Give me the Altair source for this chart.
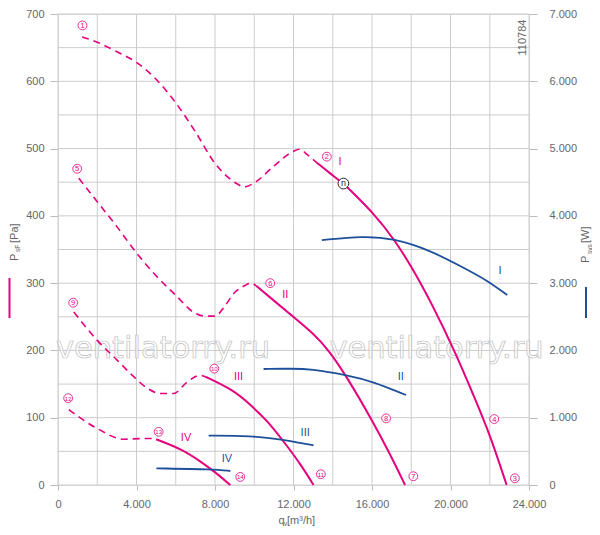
import altair as alt
import pandas as pd

PINK = "#e5007d"
BLUE = "#1d4f9b"
GRID = "#cccccc"
LBL = "#666666"
FONT = "Liberation Sans"

# ---------------- data ----------------
# flow q_v [m3/h], static pressure [Pa]
d1_x = [1230, 2000, 3000, 4000, 5000, 6000, 7000, 8000, 9000, 9500, 10000, 11000, 12000, 12300, 12700, 13190]
d1_y = [666, 658, 644, 628, 603, 568, 525, 478, 450, 443, 449, 474, 496, 499, 491, 479]
s1_x = [13190, 13870, 14545, 15000, 16070, 17090, 18025, 18955, 20315, 21160, 22010, 22860]
s1_y = [479, 463, 448, 435, 404, 367, 324, 275, 193, 134, 75, 0]

d2_x = [1060, 2000, 3000, 4000, 5000, 6000, 7000, 7500, 8000, 8500, 9000, 9500, 9850, 10100]
d2_y = [456, 421, 384, 345, 311, 282, 255, 251, 251, 266, 286, 296, 300, 296]
s2_x = [10100, 11000, 12000, 13020, 13780, 14715, 15990, 16920, 17685]
s2_y = [296, 274, 250, 225, 201, 161, 97, 46, 0]

d3_x = [805, 2000, 3000, 3860, 4540, 5215, 5890, 6575, 7250, 7505]
d3_y = [257, 215, 186, 161, 144, 136, 136, 153, 163, 161]
s3_x = [7505, 8950, 9850, 10650, 11490, 12340, 13020]
s3_y = [161, 141, 118, 96, 65, 32, 0]

d4_x = [550, 1995, 3350, 4200, 4875, 5000]
d4_y = [112, 84, 68, 69, 69, 68]
s4_x = [5000, 6400, 7250, 7930, 8780]
s4_y = [68, 52, 35, 21, 0]

# power P_sys [W]
p1_x = [13445, 15560, 17090, 18955, 20650, 21840, 22890]
p1_w = [3640, 3700, 3665, 3490, 3230, 3046, 2823]
p2_x = [10475, 12000, 12850, 14715, 16070, 17735]
p2_w = [1724, 1730, 1724, 1634, 1535, 1337]
p3_x = [7675, 9850, 11490, 12340, 13020]
p3_w = [733, 733, 674, 625, 589]
p4_x = [5015, 7930, 8780]
p4_w = [248, 233, 208]

# circled point numbers
num_t = ["1", "2", "3", "4", "5", "6", "7", "8", "9", "10", "11", "12", "13", "14"]
num_x = [1247, 13700, 23280, 22230, 977, 10814, 18107, 16718, 773, 7964, 13394, 519, 5130, 9288]
num_y = [683, 488, 10, 98, 470, 300, 13, 99, 271, 173, 16, 129, 79, 12]

# speed-step labels
rom_t = ["I", "II", "III", "IV"]
rom_px = [14377, 11578, 9201, 6524]
rom_py = [480, 282, 160, 70]
rom_bx = [22519, 17466, 12595, 8611]
rom_bw = [3184, 1600, 777, 382]

# operating point n
n_x = [14545]
n_y = [448]

grid_x = list(range(0, 24001, 2000))
grid_y = list(range(0, 701, 50))
x_labels = list(range(0, 24001, 4000))
y_labels = list(range(0, 701, 100))
w_labels = list(range(0, 7001, 1000))


def long(curves, ycol):
    rows = []
    for name, xs, ys in curves:
        for a, b in zip(xs, ys):
            rows.append({"curve": name, "x": a, ycol: b})
    return pd.DataFrame(rows)


dashed = long([("1", d1_x, d1_y), ("5", d2_x, d2_y), ("9", d3_x, d3_y), ("12", d4_x, d4_y)], "y")
solid = long([("I", s1_x, s1_y), ("II", s2_x, s2_y), ("III", s3_x, s3_y), ("IV", s4_x, s4_y)], "y")
power = long([("I", p1_x, p1_w), ("II", p2_x, p2_w), ("III", p3_x, p3_w), ("IV", p4_x, p4_w)], "w")
nums = pd.DataFrame({"t": num_t, "x": num_x, "y": num_y})
roms_p = pd.DataFrame({"t": rom_t, "x": rom_px, "y": rom_py})
roms_b = pd.DataFrame({"t": rom_t, "x": rom_bx, "w": rom_bw})
npt = pd.DataFrame({"x": n_x, "y": n_y})
gx = pd.DataFrame({"x": grid_x})
gy = pd.DataFrame({"y": grid_y})

xscale = alt.Scale(domain=[0, 24000], nice=False, zero=False)
yscale = alt.Scale(domain=[0, 700], nice=False, zero=False)
wscale = alt.Scale(domain=[0, 7000], nice=False, zero=False)

X0 = alt.X("x:Q", scale=xscale, axis=None)
Y0 = alt.Y("y:Q", scale=yscale, axis=None)

DOT = "replace(format(datum.value, ','), ',', '.')"

x_axis = alt.Axis(
    orient="bottom", values=x_labels, grid=False, domain=False, labelExpr=DOT, labelFlush=False,
    tickColor="#bbbbbb", tickSize=5, labelPadding=8, labelFontSize=11,
    labelColor=LBL, labelFont=FONT, title=None,
)
y_axis = alt.Axis(
    orient="left", values=y_labels, grid=False, domain=False, labelFlush=False,
    tickColor="#bbbbbb", tickSize=8, labelPadding=6, labelFontSize=11,
    labelColor=LBL, labelFont=FONT, title=None,
)
w_axis = alt.Axis(
    orient="right", values=w_labels, grid=False, domain=False, labelExpr=DOT, labelFlush=False,
    tickColor="#bbbbbb", tickSize=8, labelPadding=12, labelFontSize=11,
    labelColor=LBL, labelFont=FONT, title=None,
)

one = pd.DataFrame({"a": [0]})

layers = []

# grid
layers.append(alt.Chart(gx).mark_rule(color=GRID, strokeWidth=1).encode(x=X0))
layers.append(alt.Chart(gy).mark_rule(color=GRID, strokeWidth=1).encode(y=Y0))

# watermark
for px in (105, 378.5):
    layers.append(
        alt.Chart(one).mark_text(text="ventilatorry.ru", font="DejaVu Sans", fontSize=30.5, fill="#ffffff",
                                 fillOpacity=0.6, stroke="#bdbdbd", strokeWidth=0.7, align="center",
                                 baseline="alphabetic")
        .encode(x=alt.value(px), y=alt.value(344))
    )

# pressure curves (carry the bottom and left axes)
layers.append(alt.Chart(solid).mark_line(color=PINK, strokeWidth=2, interpolate="basis").encode(
    x=alt.X("x:Q", scale=xscale, axis=x_axis),
    y=alt.Y("y:Q", scale=yscale, axis=y_axis),
    detail="curve:N",
))
layers.append(alt.Chart(dashed).mark_line(color=PINK, strokeWidth=1.6, strokeDash=[7, 5],
                                          interpolate="monotone").encode(x=X0, y=Y0, detail="curve:N"))

# power curves (right axis)
layers.append(alt.Chart(power).mark_line(color=BLUE, strokeWidth=1.8, interpolate="basis").encode(
    x=X0, y=alt.Y("w:Q", scale=wscale, axis=w_axis), detail="curve:N"))
layers.append(alt.Chart(roms_b).mark_text(color=BLUE, font=FONT, fontSize=11, align="center",
                                          baseline="middle").encode(
    x=X0, y=alt.Y("w:Q", scale=wscale, axis=None), text="t:N"))

# circled numbers
layers.append(alt.Chart(nums).mark_point(shape="circle", size=78, filled=True, fill="white",
                                         stroke=PINK, strokeWidth=0.8, opacity=1).encode(x=X0, y=Y0))
layers.append(alt.Chart(nums).mark_text(color=PINK, font=FONT, baseline="middle", align="center",
                                        dy=0.5).encode(
    x=X0, y=Y0, text="t:N",
    size=alt.condition("length(datum.t) > 1", alt.value(6), alt.value(7.5)),
))
layers.append(alt.Chart(roms_p).mark_text(color=PINK, font=FONT, fontSize=11, align="center",
                                          baseline="middle").encode(x=X0, y=Y0, text="t:N"))

# operating point n
layers.append(alt.Chart(npt).mark_point(shape="circle", size=115, filled=True, fill="white",
                                        stroke="#222222", strokeWidth=1, opacity=1).encode(x=X0, y=Y0))
layers.append(alt.Chart(npt).mark_text(text="n", color="#222222", font=FONT, fontSize=9, align="center",
                                       baseline="middle", dy=-0.5).encode(x=X0, y=Y0))


def txt(s, x, y, size=11, color=LBL, angle=0, align="left"):
    return alt.Chart(one).mark_text(text=s, font=FONT, fontSize=size, color=color, angle=angle,
                                    align=align, baseline="middle").encode(x=alt.value(x), y=alt.value(y))


def vline(x, y1, y2, color):
    return alt.Chart(one).mark_rule(color=color, strokeWidth=2).encode(
        x=alt.value(x), y=alt.value(y1), y2=alt.value(y2))


layers += [
    txt("110784", 465, 23.5, size=11, angle=270, align="center"),
    # left title
    txt("P", -43.5, 247, angle=270), txt("sF", -40, 238, size=6.5, angle=270),
    txt("[Pa]", -43.5, 229, angle=270), vline(-48.5, 264, 304, PINK),
    # right title
    txt("P", 528, 249, angle=270), txt("sys", 531.5, 240, size=6.5, angle=270),
    txt("[W]", 528, 229, angle=270), vline(528, 273, 304, BLUE),
    # bottom title
    txt("q", 220.5, 507), txt("v", 226, 510, size=6.5), txt("[m³/h]", 229, 507),
]

chart = alt.layer(*layers).resolve_scale(y="independent").resolve_axis(x="independent").properties(
    width=471, height=471, autosize="none",
    padding={"left": 50, "top": 6, "right": 63, "bottom": 46},
).configure_view(strokeWidth=0).configure(background="white")

chart.save("out.html", embed_options={"renderer": "svg", "actions": False})
